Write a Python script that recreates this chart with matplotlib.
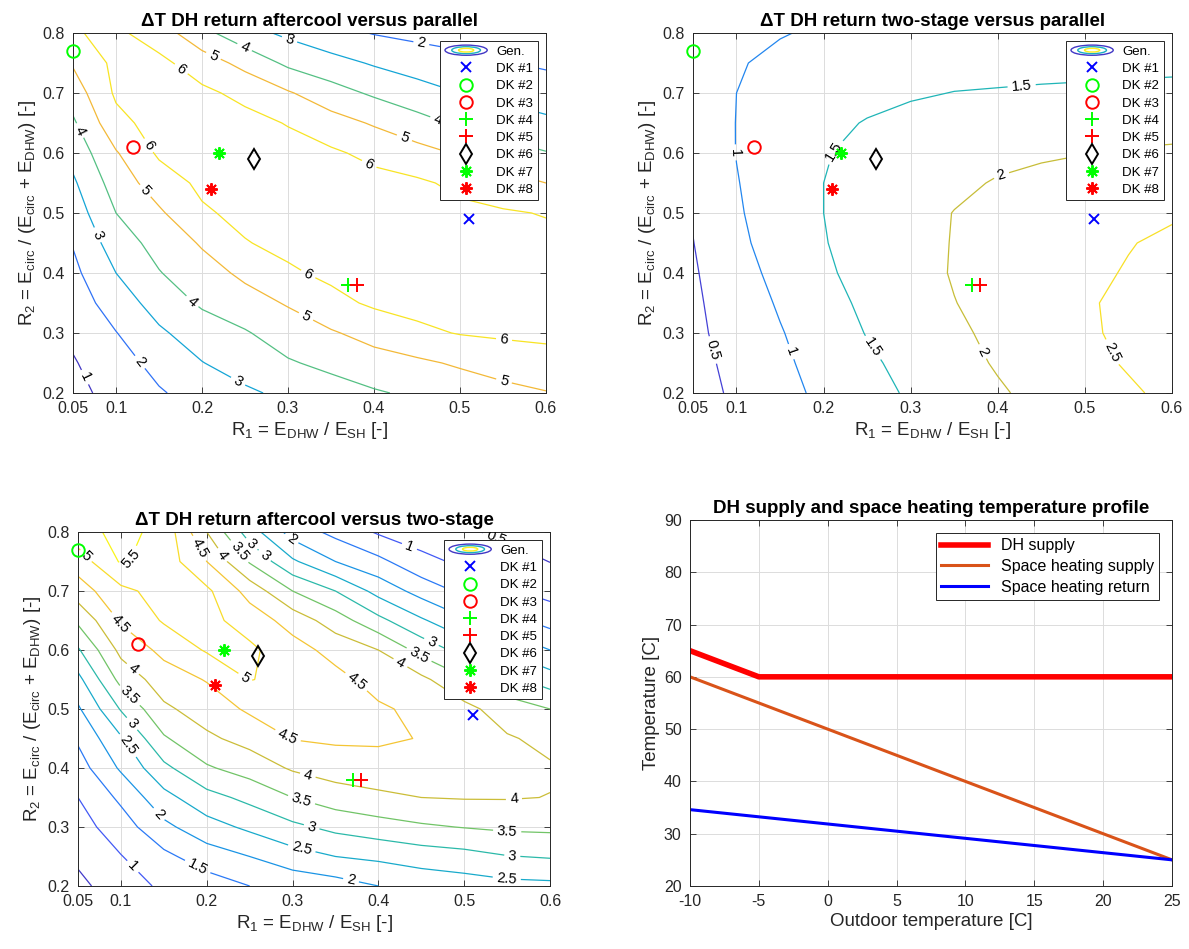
import numpy as np
import matplotlib
matplotlib.use('Agg')
import matplotlib.pyplot as plt
from matplotlib.colors import LinearSegmentedColormap
from matplotlib.legend_handler import HandlerBase
from matplotlib.patches import Ellipse

plt.rcParams['font.family'] = ['Liberation Sans', 'DejaVu Sans']
plt.rcParams['mathtext.default'] = 'regular'
plt.rcParams['axes.unicode_minus'] = False

# grid of the contour maps
r1 = [0.05, 0.10, 0.15, 0.20, 0.25, 0.30, 0.35, 0.40, 0.45, 0.50, 0.55, 0.60]
r2 = [0.20, 0.25, 0.30, 0.35, 0.40, 0.45, 0.50, 0.55, 0.60, 0.65, 0.70, 0.75, 0.80]

# delta T DH return, aftercool vs parallel (rows = r2, cols = r1)
dt_aftercool_parallel = [
    [0.73, 1.32, 1.91, 2.38, 2.84, 3.22, 3.56, 3.90, 4.17, 4.42, 4.70, 4.95],
    [0.92, 1.60, 2.30, 2.97, 3.44, 3.90, 4.25, 4.60, 4.82, 5.13, 5.45, 5.65],
    [1.19, 1.97, 2.85, 3.48, 3.91, 4.50, 4.90, 5.35, 5.80, 6.05, 6.15, 6.20],
    [1.47, 2.48, 3.40, 4.14, 4.62, 5.08, 5.72, 6.15, 6.30, 6.35, 6.40, 6.40],
    [1.76, 3.00, 3.95, 4.60, 5.20, 5.86, 6.20, 6.40, 6.45, 6.45, 6.45, 6.40],
    [2.06, 3.50, 4.35, 5.10, 5.95, 6.25, 6.40, 6.50, 6.45, 6.35, 6.30, 6.25],
    [2.46, 4.00, 4.85, 5.87, 6.25, 6.45, 6.50, 6.45, 6.35, 6.20, 6.10, 5.95],
    [2.85, 4.45, 5.50, 6.20, 6.40, 6.45, 6.40, 6.30, 6.15, 5.80, 5.40, 5.00],
    [3.33, 4.92, 6.15, 6.35, 6.40, 6.35, 6.15, 5.75, 5.35, 4.90, 4.40, 4.05],
    [3.85, 5.70, 6.40, 6.35, 6.30, 5.95, 5.40, 4.90, 4.35, 3.85, 3.50, 3.20],
    [4.46, 6.15, 6.45, 6.20, 5.75, 5.10, 4.40, 3.85, 3.40, 3.00, 2.75, 2.50],
    [5.10, 6.25, 6.25, 5.50, 4.70, 3.80, 3.35, 2.90, 2.55, 2.30, 2.05, 1.85],
    [5.93, 6.20, 5.50, 4.30, 3.35, 2.80, 2.30, 1.95, 1.75, 1.60, 1.45, 1.20],
]

# delta T DH return, two-stage vs parallel
dt_twostage_parallel = [
    [0.31, 0.58, 0.85, 1.10, 1.33, 1.56, 1.75, 1.95, 2.12, 2.28, 2.44, 2.60],
    [0.35, 0.63, 0.91, 1.17, 1.42, 1.64, 1.85, 2.04, 2.21, 2.38, 2.54, 2.70],
    [0.40, 0.68, 0.97, 1.25, 1.52, 1.72, 1.92, 2.10, 2.27, 2.43, 2.60, 2.75],
    [0.42, 0.74, 1.05, 1.34, 1.59, 1.79, 1.99, 2.14, 2.30, 2.45, 2.60, 2.75],
    [0.45, 0.81, 1.14, 1.43, 1.65, 1.84, 2.03, 2.15, 2.28, 2.41, 2.53, 2.65],
    [0.49, 0.90, 1.20, 1.48, 1.67, 1.85, 2.02, 2.14, 2.25, 2.37, 2.48, 2.58],
    [0.53, 0.95, 1.23, 1.50, 1.67, 1.85, 2.01, 2.12, 2.22, 2.30, 2.38, 2.45],
    [0.57, 0.98, 1.25, 1.50, 1.65, 1.80, 1.92, 2.03, 2.10, 2.18, 2.24, 2.30],
    [0.60, 1.01, 1.25, 1.47, 1.62, 1.74, 1.83, 1.90, 1.95, 1.99, 2.03, 2.05],
    [0.63, 1.01, 1.20, 1.37, 1.53, 1.63, 1.71, 1.77, 1.81, 1.84, 1.86, 1.88],
    [0.66, 1.00, 1.13, 1.25, 1.35, 1.45, 1.51, 1.53, 1.55, 1.56, 1.57, 1.58],
    [0.70, 0.97, 1.08, 1.16, 1.23, 1.29, 1.33, 1.36, 1.38, 1.40, 1.42, 1.43],
    [0.72, 0.85, 0.98, 1.05, 1.10, 1.15, 1.18, 1.20, 1.22, 1.24, 1.26, 1.27],
]

# delta T DH return, aftercool vs two-stage
dt_aftercool_twostage = [
    [0.38, 0.76, 1.09, 1.25, 1.50, 1.65, 1.78, 2.00, 2.15, 2.25, 2.35, 2.38],
    [0.59, 0.98, 1.38, 1.76, 2.00, 2.30, 2.50, 2.60, 2.74, 2.83, 2.98, 3.04],
    [0.80, 1.26, 1.88, 2.30, 2.60, 2.89, 3.13, 3.29, 3.43, 3.52, 3.59, 3.61],
    [1.00, 1.60, 2.34, 2.83, 3.13, 3.50, 3.76, 3.90, 4.00, 4.03, 4.03, 3.99],
    [1.28, 2.07, 2.88, 3.44, 3.72, 4.06, 4.23, 4.29, 4.30, 4.20, 4.10, 4.05],
    [1.57, 2.44, 3.44, 3.91, 4.17, 4.52, 4.58, 4.58, 4.48, 4.25, 4.05, 3.87],
    [1.93, 3.04, 3.91, 4.23, 4.58, 4.75, 4.70, 4.57, 4.38, 4.15, 3.75, 3.50],
    [2.36, 3.66, 4.26, 4.53, 5.02, 4.85, 4.65, 4.31, 4.12, 3.57, 3.14, 2.75],
    [2.94, 4.14, 4.63, 5.05, 5.10, 4.70, 4.33, 4.00, 3.33, 2.81, 2.43, 2.00],
    [3.60, 4.56, 5.05, 5.15, 4.78, 4.30, 3.75, 3.14, 2.57, 2.08, 1.67, 1.31],
    [4.26, 4.87, 5.20, 5.10, 4.31, 3.50, 3.00, 2.33, 1.81, 1.39, 1.06, 0.83],
    [4.74, 5.55, 5.30, 4.50, 3.45, 2.58, 2.00, 1.63, 1.14, 0.90, 0.71, 0.49],
    [5.30, 5.65, 5.35, 4.00, 2.75, 1.79, 1.36, 0.94, 0.75, 0.57, 0.39, 0.20],
]

levels_ap = [1, 2, 3, 4, 5, 6]
levels_tp = [0.5, 1, 1.5, 2, 2.5]
levels_at = [0.5, 1, 1.5, 2, 2.5, 3, 3.5, 4, 4.5, 5, 5.5]

# DK sites
dk_names = ['DK #1', 'DK #2', 'DK #3', 'DK #4', 'DK #5', 'DK #6', 'DK #7', 'DK #8']
dk_r1 = [0.51, 0.05, 0.12, 0.37, 0.38, 0.26, 0.22, 0.21]
dk_r2 = [0.49, 0.77, 0.61, 0.38, 0.38, 0.59, 0.60, 0.54]

# temperature profile
outdoor_dh = [-10, -5, 25]
dh_supply = [65, 60, 60]
outdoor_sh = [-10, 25]
sh_supply = [60, 25]
sh_return = [34.6, 25]

# MATLAB-like parula colormap
parula = LinearSegmentedColormap.from_list('parula', [
    (0.000, (0.2422, 0.1504, 0.6603)), (0.125, (0.2810, 0.3228, 0.9579)),
    (0.250, (0.1540, 0.4883, 0.9662)), (0.375, (0.0700, 0.6340, 0.8600)),
    (0.500, (0.1300, 0.7200, 0.7000)), (0.610, (0.4500, 0.7700, 0.4000)),
    (0.680, (0.7200, 0.7500, 0.2200)), (0.735, (0.9500, 0.7200, 0.2200)),
    (0.860, (0.9700, 0.8400, 0.1800)), (1.000, (0.9769, 0.9839, 0.0805))])

dk_styles = [
    dict(marker='x', color='b', mfc='none', ms=7),
    dict(marker='o', color=(0, 1, 0), mfc='none', ms=9),
    dict(marker='o', color='r', mfc='none', ms=9),
    dict(marker='+', color=(0, 1, 0), mfc='none', ms=10),
    dict(marker='+', color='r', mfc='none', ms=10),
    dict(marker='d', color='k', mfc='none', ms=10),
    dict(marker=(8, 2, 0), color=(0, 1, 0), mfc='none', ms=9),
    dict(marker=(8, 2, 0), color='r', mfc='none', ms=9),
]

# label anchor points (approximate positions of labels in the original)
labels_ap = [(0.062, 0.225), (0.121, 0.244), (0.241, 0.217), (0.185, 0.347), (0.316, 0.314),
             (0.322, 0.394), (0.551, 0.219), (0.551, 0.286), (0.056, 0.636), (0.076, 0.462),
             (0.127, 0.528), (0.133, 0.608), (0.181, 0.75), (0.213, 0.761), (0.248, 0.772),
             (0.301, 0.786), (0.455, 0.783), (0.472, 0.647), (0.434, 0.62), (0.397, 0.589)]
labels_tp = [(0.071, 0.271), (0.099, 0.601), (0.155, 0.265), (0.209, 0.606), (0.427, 0.719),
             (0.252, 0.271), (0.405, 0.559), (0.377, 0.265), (0.531, 0.268)]
labels_at = [(0.061, 0.762), (0.13, 0.743), (0.182, 0.765), (0.214, 0.757), (0.232, 0.76),
             (0.247, 0.771), (0.272, 0.768), (0.295, 0.782), (0.435, 0.771), (0.537, 0.79),
             (0.095, 0.641), (0.243, 0.549), (0.379, 0.554), (0.46, 0.608), (0.447, 0.591),
             (0.424, 0.574), (0.111, 0.563), (0.107, 0.518), (0.109, 0.47), (0.101, 0.431),
             (0.293, 0.45), (0.318, 0.389), (0.31, 0.344), (0.322, 0.299), (0.31, 0.259),
             (0.139, 0.315), (0.187, 0.226), (0.109, 0.226), (0.368, 0.209), (0.558, 0.346),
             (0.55, 0.29), (0.556, 0.251), (0.55, 0.217)]

TXT = '#262626'


class GenHandle:
    pass


class GenHandler(HandlerBase):
    def create_artists(self, legend, orig_handle, xdescent, ydescent, width, height,
                       fontsize, trans):
        cx = width / 2 - xdescent
        cy = height / 2 - ydescent
        arts = []
        for frac, col in [(1.0, parula(0.05)), (0.68, parula(0.45)), (0.36, parula(0.95))]:
            arts.append(Ellipse((cx, cy), width * frac, height * 1.1 * frac, fill=False,
                                edgecolor=col, lw=1.0, transform=trans))
        return arts


def style_axes(ax):
    ax.tick_params(direction='in', top=True, right=True, length=4, width=0.6,
                   labelsize=11.5, colors=TXT, pad=6)
    ax.grid(True, color='#dcdcdc', lw=0.7)
    ax.set_axisbelow(True)
    for s in ax.spines.values():
        s.set_color(TXT)
        s.set_linewidth(0.7)


def contour_panel(ax, z, levels, title, label_pos):
    z = np.array(z)
    cs = ax.contour(r1, r2, z, levels=levels, cmap=parula, vmin=z.min(), vmax=z.max(),
                    linewidths=0.9)
    ax.clabel(cs, fmt='%g', fontsize=10.5, colors='k', inline=True, inline_spacing=4,
              manual=label_pos)
    handles = [GenHandle()]
    for i, name in enumerate(dk_names):
        h, = ax.plot(dk_r1[i], dk_r2[i], ls='none', mew=1.4, clip_on=False, zorder=5,
                     **dk_styles[i])
        handles.append(h)
    ax.set_xlim(0.05, 0.6)
    ax.set_ylim(0.2, 0.8)
    ax.set_xticks([0.05, 0.1, 0.2, 0.3, 0.4, 0.5, 0.6])
    ax.set_xticklabels(['0.05', '0.1', '0.2', '0.3', '0.4', '0.5', '0.6'])
    ax.set_yticks([0.2, 0.3, 0.4, 0.5, 0.6, 0.7, 0.8])
    ax.set_xlabel(r'R$_1$ = E$_{DHW}$ / E$_{SH}$ [-]', fontsize=13.5, color=TXT, labelpad=3)
    ax.set_ylabel(r'R$_2$ = E$_{circ}$ / (E$_{circ}$ + E$_{DHW}$) [-]', fontsize=13.5,
                  color=TXT, labelpad=3)
    ax.set_title(title, fontsize=13.5, fontweight='bold', pad=5)
    style_axes(ax)
    leg = ax.legend(handles, ['Gen.'] + dk_names, loc='upper right', fontsize=9.5,
                    handler_map={GenHandle: GenHandler()}, handlelength=3.2,
                    labelspacing=0.38, borderaxespad=0.6, borderpad=0.35,
                    handletextpad=0.7, fancybox=False, framealpha=1,
                    edgecolor=TXT)
    leg.get_frame().set_linewidth(0.7)
    leg.set_zorder(10)


fig = plt.figure(figsize=(11.89, 9.49), dpi=100)

ax1 = fig.add_axes([0.0614, 0.5859, 0.3978, 0.3793])
contour_panel(ax1, dt_aftercool_parallel, levels_ap,
              'ΔT DH return aftercool versus parallel', labels_ap)

ax2 = fig.add_axes([0.5828, 0.5859, 0.4029, 0.3793])
contour_panel(ax2, dt_twostage_parallel, levels_tp,
              'ΔT DH return two-stage versus parallel', labels_tp)

ax3 = fig.add_axes([0.0656, 0.0664, 0.397, 0.373])
contour_panel(ax3, dt_aftercool_twostage, levels_at,
              'ΔT DH return aftercool versus two-stage', labels_at)

ax4 = fig.add_axes([0.5803, 0.0664, 0.4054, 0.3857])
ax4.plot(outdoor_dh, dh_supply, color='r', lw=4, label='DH supply')
ax4.plot(outdoor_sh, sh_supply, color=(0.85, 0.325, 0.098), lw=2.2,
         label='Space heating supply')
ax4.plot(outdoor_sh, sh_return, color='b', lw=2.2, label='Space heating return')
ax4.set_xlim(-10, 25)
ax4.set_ylim(20, 90)
ax4.set_xticks(np.arange(-10, 26, 5))
ax4.set_yticks(np.arange(20, 91, 10))
ax4.set_xlabel('Outdoor temperature [C]', fontsize=13.5, color=TXT, labelpad=3)
ax4.set_ylabel('Temperature [C]', fontsize=13.5, color=TXT, labelpad=3)
ax4.set_title('DH supply and space heating temperature profile', fontsize=13.5,
              fontweight='bold', pad=5)
style_axes(ax4)
leg = ax4.legend(loc='upper right', fontsize=11.5, handlelength=2.9, labelspacing=0.35,
                 borderaxespad=0.8, borderpad=0.35, fancybox=False, framealpha=1,
                 edgecolor=TXT)
leg.get_frame().set_linewidth(0.7)

fig.savefig('out.png', dpi=100)
